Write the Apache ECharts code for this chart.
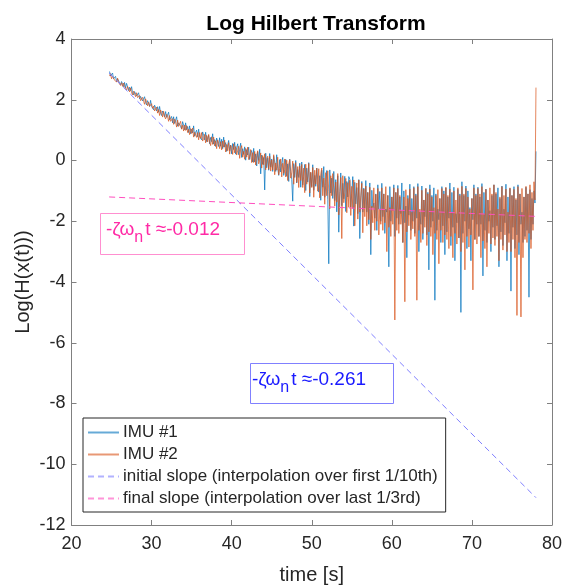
<!DOCTYPE html>
<html>
<head>
<meta charset="utf-8">
<script src="https://cdn.jsdelivr.net/npm/echarts@6/dist/echarts.min.js"></script>
<style>
    html, body { margin: 0; padding: 0; background: #fff; }
    #chart { width: 566px; height: 588px; }
</style>
</head>
<body>
<div id="chart"></div>
<script>
    // sampling of the two traces (seconds)
    var t0 = 24.75;
    var dt = 0.125;

    // IMU #1, log of hilbert envelope (2 s per row)
    var imu1 = [
        2.93, 2.78, 2.82, 2.88, 2.69, 2.71, 2.77, 2.60, 2.69, 2.75, 2.56, 2.49, 2.60, 2.54, 2.43, 2.57,
        2.39, 2.54, 2.43, 2.30, 2.41, 2.30, 2.43, 2.23, 2.16, 2.27, 2.28, 2.12, 2.17, 2.23, 2.03, 2.11,
        2.14, 1.96, 2.02, 2.10, 1.91, 1.83, 1.97, 1.89, 1.78, 1.98, 1.78, 1.84, 1.67, 1.82, 1.74, 1.63,
        1.77, 1.59, 1.78, 1.56, 1.48, 1.63, 1.56, 1.44, 1.61, 1.42, 1.48, 1.59, 1.34, 1.36, 1.45, 1.24,
        1.44, 1.22, 1.33, 1.44, 1.13, 1.24, 1.30, 1.12, 1.04, 1.28, 1.16, 1.01, 1.24, 1.01, 1.12, 0.92,
        1.14, 0.88, 1.03, 0.91, 1.14, 0.80, 0.93, 1.00, 0.78, 1.03, 0.78, 0.84, 0.68, 0.94, 0.83, 0.68,
        0.93, 0.62, 0.76, 0.83, 0.55, 0.76, 0.62, 0.88, 0.54, 0.69, 0.46, 0.74, 0.61, 0.46, 0.75, 0.47,
        0.70, 0.39, 0.77, 0.44, 0.59, 0.30, 0.51, 0.66, 0.32, 0.51, 0.22, 0.56, 0.36, 0.60, 0.21, 0.42,
        0.55, 0.19, 0.37, 0.57, 0.10, 0.39, 0.20, 0.45, 0.01, 0.36, 0.18, 0.44, 0.03, 0.25, 0.33, -0.05,
        0.40, -0.05, 0.22, -0.18, 0.29, 0.00, 0.37, -0.44, 0.18, -0.13, 0.10, -0.97, 0.24, -0.24, 0.09, -0.32,
        0.23, -0.22, 0.05, -0.36, 0.14, -0.05, -0.36, 0.19, -0.26, -0.49, 0.03, -0.38, -0.09, 0.10, -0.49, -0.30,
        0.04, -0.52, -0.11, -0.69, 0.04, -0.37, -0.63, -1.34, -0.10, -0.56, 0.00, -0.74, -0.30, -0.56, -0.09, -0.88,
        -0.05, -0.81, -0.52, -0.13, -0.99, -0.25, -0.71, -0.07, -1.19, -0.40, -0.86, -0.14, -0.98, -0.49, -0.85, -0.25,
        -0.20, -1.04, -0.50, -1.31, -0.32, -0.88, -0.20, -1.21, -0.82, -0.33, -1.29, -3.40, -0.31, -1.07, -0.58, -1.25,
        -0.36, -1.32, -0.63, -1.69, -0.50, -2.36, -1.02, -0.41, -1.49, -0.75, -1.26, -0.52, -1.68, -0.69, -1.20, -0.53,
        -0.62, -1.53, -1.09, -0.53, -2.16, -0.72, -1.43, -0.89, -1.75, -0.63, -2.57, -1.23, -0.69, -1.70, -0.91, -1.57,
        -0.66, -1.70, -1.05, -2.10, -0.74, -3.10, -0.98, -1.55, -1.40, -1.90, -1.10, -2.30, -0.80, -1.60, -1.02, -2.00,
        -0.75, -1.85, -1.10, -2.40, -1.60, -1.70, -1.15, -3.50, -0.86, -2.00, -1.20, -1.65, -0.80, -2.50, -1.05, -1.90,
        -0.82, -2.10, -1.20, -1.75, -0.74, -2.70, -1.00, -2.05, -1.50, -3.20, -1.15, -1.80, -0.78, -2.30, -1.25, -2.00,
        -0.86, -2.40, -1.10, -1.90, -0.76, -3.00, -1.70, -2.10, -0.84, -2.60, -1.30, -1.85, -0.92, -2.45, -1.05, -3.60,
        -0.80, -2.20, -1.15, -2.00, -0.90, -4.60, -1.10, -2.30, -1.60, -1.95, -1.25, -2.70, -0.86, -2.15, -1.00, -3.10,
        -0.90, -2.35, -1.20, -1.90, -0.74, -2.80, -1.05, -2.20, -0.88, -3.30, -1.75, -2.05, -0.95, -2.55, -1.10, -5.00,
        -0.70, -2.40, -1.15, -2.00, -0.84, -2.90, -1.00, -2.25, -1.55, -3.30, -1.25, -1.95, -0.80, -2.60, -1.10, -2.10,
        -0.88, -2.50, -1.20, -2.10, -0.76, -3.80, -1.05, -2.30, -0.94, -2.70, -1.30, -2.00, -1.65, -3.00, -1.15, -2.20,
        -0.80, -2.60, -1.10, -2.15, -0.90, -3.50, -1.25, -2.35, -0.84, -2.80, -1.60, -2.05, -0.78, -3.30, -1.20, -2.40,
        -0.92, -4.30, -1.15, -2.20, -0.86, -2.90, -1.30, -2.45, -0.80, -3.10, -1.10, -2.10, -1.70, -2.70, -1.20, -2.50,
        -0.88, -2.30, -1.10, -4.50, -0.96, -2.60, -1.25, -2.10, -1.00, -1.40, 0.30
    ];

    // IMU #2
    var imu2 = [
        2.78, 2.86, 2.69, 2.78, 2.79, 2.65, 2.69, 2.58, 2.71, 2.57, 2.62, 2.47, 2.56, 2.44, 2.55, 2.43,
        2.47, 2.32, 2.44, 2.37, 2.26, 2.39, 2.23, 2.16, 2.28, 2.18, 2.10, 2.23, 2.07, 2.13, 2.14, 1.97,
        1.95, 2.08, 1.95, 1.85, 2.03, 1.93, 1.80, 1.92, 1.78, 1.72, 1.87, 1.72, 1.79, 1.63, 1.66, 1.76,
        1.56, 1.68, 1.48, 1.66, 1.59, 1.43, 1.62, 1.44, 1.37, 1.52, 1.44, 1.29, 1.48, 1.29, 1.23, 1.38,
        1.19, 1.36, 1.27, 1.10, 1.33, 1.12, 1.13, 1.29, 1.03, 1.16, 0.97, 1.17, 0.99, 1.15, 0.92, 1.03,
        0.85, 1.05, 0.89, 1.07, 0.77, 0.93, 0.99, 0.76, 0.92, 0.68, 0.92, 0.73, 0.92, 0.64, 0.72, 0.86,
        0.58, 0.83, 0.61, 0.86, 0.61, 0.49, 0.78, 0.53, 0.77, 0.48, 0.65, 0.39, 0.68, 0.58, 0.39, 0.62,
        0.35, 0.64, 0.44, 0.67, 0.28, 0.53, 0.32, 0.59, 0.21, 0.50, 0.43, 0.20, 0.55, 0.25, 0.46, 0.18,
        0.14, 0.47, 0.07, 0.38, 0.49, 0.11, 0.30, 0.04, 0.40, 0.11, 0.44, 0.03, 0.13, 0.36, -0.07, 0.26,
        -0.07, 0.30, -0.15, 0.17, 0.32, -0.11, 0.01, 0.25, -0.25, 0.16, -0.14, 0.22, -0.31, 0.07, 0.14, -0.29,
        0.14, -0.35, 0.02, -0.31, 0.19, -0.47, -0.08, -0.32, 0.11, -0.47, -0.26, 0.05, -0.54, -0.09, -0.42, 0.05,
        -0.54, 0.01, -0.66, -0.12, 0.03, -0.58, -0.41, -0.02, -0.78, -0.26, -0.07, -0.72, -0.20, -0.89, -0.18, -0.66,
        -0.13, -0.89, -0.25, -1.06, -0.12, -0.78, -0.54, -0.10, -1.07, -0.38, -0.89, -0.23, -1.21, -0.32, -0.78, -0.25,
        -1.01, -0.27, -1.23, -0.44, -0.25, -1.16, -0.58, -1.44, -0.40, -1.16, -0.34, -1.03, -1.59, -0.50, -1.16, -0.43,
        -0.44, -1.50, -0.71, -1.37, -0.43, -1.79, -1.10, -0.56, -2.57, -0.50, -1.39, -1.05, -0.59, -1.72, -0.73, -1.54,
        -0.65, -1.81, -0.85, -1.58, -0.64, -2.15, -1.21, -0.74, -1.93, -0.64, -1.70, -1.16, -0.75, -2.38, -0.94, -1.85,
        -0.84, -2.15, -1.05, -1.95, -0.88, -2.60, -1.50, -2.05, -0.90, -2.30, -1.12, -2.00, -0.92, -2.45, -1.60, -2.10,
        -0.90, -2.30, -1.10, -2.05, -0.86, -3.00, -1.15, -2.20, -1.55, -2.50, -1.20, -2.10, -0.90, -5.25, -1.05, -2.30,
        -0.92, -2.40, -1.15, -2.10, -1.65, -2.70, -1.20, -4.65, -0.96, -2.35, -1.25, -2.15, -0.94, -2.60, -1.70, -2.25,
        -0.90, -2.50, -1.15, -4.60, -0.86, -2.30, -1.60, -2.70, -0.98, -2.40, -1.30, -2.20, -0.92, -2.80, -1.10, -2.35,
        -0.94, -2.50, -1.20, -3.10, -1.55, -2.40, -1.15, -2.60, -0.96, -3.40, -1.25, -2.30, -0.92, -2.70, -1.10, -2.45,
        -0.88, -2.60, -1.15, -2.90, -0.94, -2.50, -1.70, -3.20, -1.00, -2.40, -1.30, -2.75, -0.90, -2.55, -1.15, -3.00,
        -0.85, -2.70, -1.10, -3.60, -0.92, -2.50, -1.20, -2.85, -1.60, -2.45, -1.25, -4.26, -0.90, -2.60, -1.15, -2.75,
        -0.92, -2.50, -1.10, -3.20, -0.86, -2.65, -1.75, -2.90, -0.95, -3.50, -1.30, -2.40, -0.90, -2.75, -1.10, -2.55,
        -0.80, -2.80, -1.05, -2.50, -1.60, -3.30, -1.20, -2.60, -0.86, -2.95, -1.15, -2.45, -0.94, -3.00, -1.70, -2.70,
        -0.90, -3.00, -1.15, -2.60, -0.95, -3.20, -1.25, -5.10, -0.86, -2.70, -1.10, -5.15, -0.92, -3.20, -1.20, -2.60,
        -0.85, -2.70, -1.10, -2.40, -0.80, -2.90, -1.05, -2.30, -0.70, -1.30, 2.40
    ];

    // fitted slopes, end points [t, log H]
    var initialFitT = [24.7, 78.0];
    var initialFitY = [2.88, -11.1];
    var finalFitT = [24.7, 78.0];
    var finalFitY = [-1.2, -1.84];

    var seriesNames = [
        'IMU #1',
        'IMU #2',
        'initial slope (interpolation over first 1/10th)',
        'final slope (interpolation over last 1/3rd)'
    ];

    var xTicks = { min: 20, max: 80, step: 10 };
    var yTicks = { min: -12, max: 4, step: 2 };

    function toPairs(values) {
        return values.map(function(v, i) {
            return [t0 + i * dt, v];
        });
    }

    function zipPairs(xs, ys) {
        return xs.map(function(x, i) {
            return [x, ys[i]];
        });
    }

    var font = 'Liberation Sans, Arial, Helvetica, sans-serif';
    var axisColor = '#262626';
    var boxColor = '#808080';

    var chart = echarts.init(document.getElementById('chart'), null, { renderer: 'canvas' });

    var baseAxis = {
        axisLine: { show: true, onZero: false, lineStyle: { color: boxColor, width: 1 } },
        axisTick: { show: true, inside: true, length: 5, lineStyle: { color: boxColor } },
        splitLine: { show: false }
    };

    var option = {
        animation: false,
        backgroundColor: '#fff',
        title: {
            text: 'Log Hilbert Transform',
            left: 311,
            top: 9,
            textAlign: 'center',
            textStyle: { fontFamily: font, fontSize: 21, fontWeight: 'bold', color: '#000' }
        },
        grid: { left: 71.5, right: 14, top: 39, bottom: 63, outerBoundsMode: 'none' },
        legend: {
            orient: 'vertical',
            left: 83,
            top: 418,
            data: seriesNames,
            backgroundColor: '#fff',
            borderColor: axisColor,
            borderWidth: 1,
            borderRadius: 0,
            padding: [6, 8, 5, 4],
            itemGap: 5,
            itemWidth: 31,
            itemHeight: 18,
            itemStyle: { opacity: 0 },
            lineStyle: { opacity: 0.6 },
            textStyle: { fontFamily: font, fontSize: 17, color: axisColor, padding: [0, 0, 0, -1] }
        },
        xAxis: [
            Object.assign({}, baseAxis, {
                type: 'value',
                min: xTicks.min,
                max: xTicks.max,
                interval: xTicks.step,
                name: 'time [s]',
                nameLocation: 'middle',
                nameGap: 40,
                nameMoveOverlap: false,
                nameTextStyle: { fontFamily: font, fontSize: 20, color: axisColor },
                axisLabel: { margin: 10, fontFamily: font, fontSize: 18, color: axisColor }
            }),
            Object.assign({}, baseAxis, {
                type: 'value',
                position: 'top',
                min: xTicks.min,
                max: xTicks.max,
                interval: xTicks.step,
                axisLabel: { show: false }
            })
        ],
        yAxis: [
            Object.assign({}, baseAxis, {
                type: 'value',
                min: yTicks.min,
                max: yTicks.max,
                interval: yTicks.step,
                name: 'Log(H(x(t)))',
                nameLocation: 'middle',
                nameGap: 38,
                nameMoveOverlap: false,
                nameTextStyle: { fontFamily: font, fontSize: 20, color: axisColor },
                axisLabel: { margin: 6, fontFamily: font, fontSize: 18, color: axisColor }
            }),
            Object.assign({}, baseAxis, {
                type: 'value',
                position: 'right',
                min: yTicks.min,
                max: yTicks.max,
                interval: yTicks.step,
                axisLabel: { show: false }
            })
        ],
        series: [
            {
                name: seriesNames[0],
                type: 'line',
                data: toPairs(imu1),
                symbol: 'none',
                color: '#0072BD',
                lineStyle: { width: 1, color: '#0072BD', opacity: 0.7 }
            },
            {
                name: seriesNames[1],
                type: 'line',
                data: toPairs(imu2),
                symbol: 'none',
                color: '#D95319',
                lineStyle: { width: 1, color: '#D95319', opacity: 0.7 }
            },
            {
                name: seriesNames[2],
                type: 'line',
                data: zipPairs(initialFitT, initialFitY),
                symbol: 'none',
                color: '#7f7fff',
                lineStyle: { width: 1, color: '#7f7fff', type: [6, 4] }
            },
            {
                name: seriesNames[3],
                type: 'line',
                data: zipPairs(finalFitT, finalFitY),
                symbol: 'none',
                color: '#ff4fbf',
                lineStyle: { width: 1, color: '#ff4fbf', type: [6, 4] }
            }
        ],
        graphic: [
            // final slope annotation
            {
                type: 'rect',
                shape: { x: 100.5, y: 213.5, width: 144, height: 41 },
                style: { fill: '#fff', stroke: '#ff8fd0', lineWidth: 1 },
                z: 10
            },
            {
                type: 'text',
                left: 106,
                top: 220,
                z: 11,
                style: {
                    text: '{a|-ζω}{s|n}{a|t ≈-0.012}',
                    rich: {
                        a: { fontFamily: font, fontSize: 19, fill: '#ff2aa6', color: '#ff2aa6' },
                        s: { fontFamily: font, fontSize: 16, fill: '#ff2aa6', color: '#ff2aa6', padding: [17, 2, 0, 0] }
                    }
                }
            },
            // initial slope annotation
            {
                type: 'rect',
                shape: { x: 250.5, y: 363.5, width: 143, height: 40 },
                style: { fill: '#fff', stroke: '#8080ff', lineWidth: 1 },
                z: 10
            },
            {
                type: 'text',
                left: 252,
                top: 370,
                z: 11,
                style: {
                    text: '{a|-ζω}{s|n}{a|t ≈-0.261}',
                    rich: {
                        a: { fontFamily: font, fontSize: 19, fill: '#1a1aff', color: '#1a1aff' },
                        s: { fontFamily: font, fontSize: 16, fill: '#1a1aff', color: '#1a1aff', padding: [17, 2, 0, 0] }
                    }
                }
            }
        ]
    };

    chart.setOption(option);
</script>
</body>
</html>
